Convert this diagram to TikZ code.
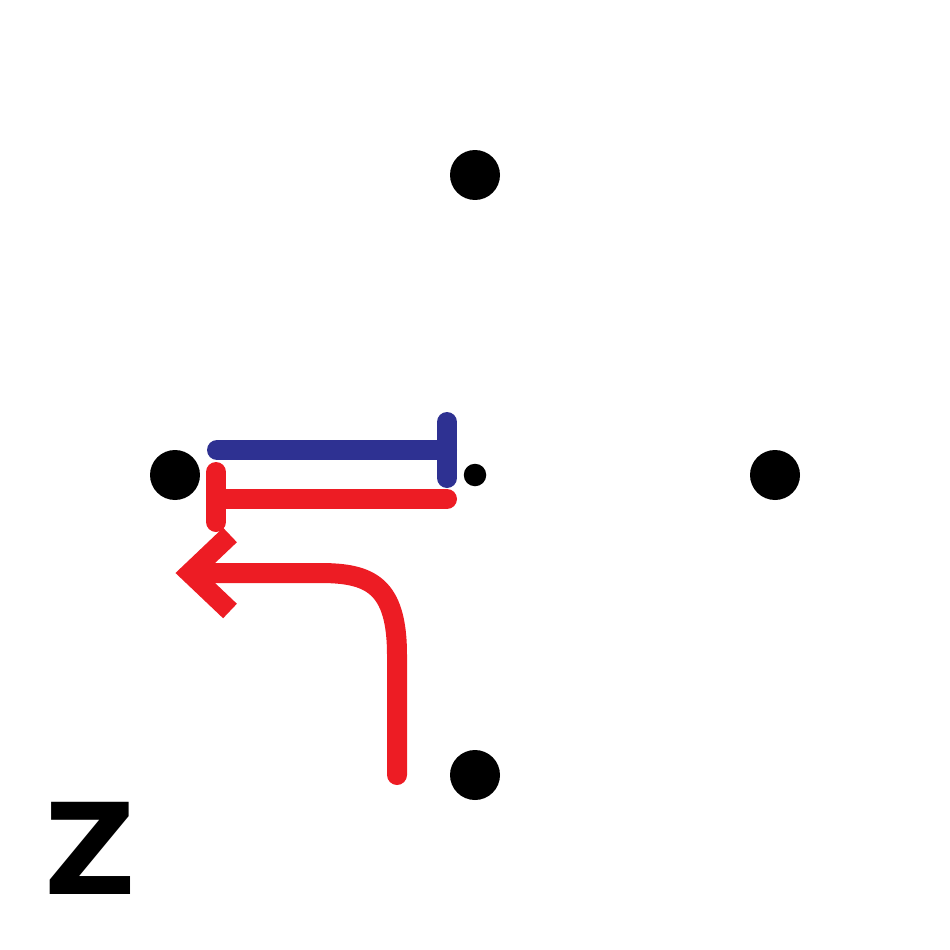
\documentclass[tikz,border=0pt]{standalone}
\usepackage{fontspec}
\newfontfamily\zfont{DejaVu Sans}
\definecolor{iblue}{HTML}{2E3192}
\definecolor{ired}{HTML}{ED1C24}
\begin{document}
\begin{tikzpicture}[x=0.02cm,y=-0.02cm,
  bigdot/.style={circle,fill=black,inner sep=0pt,minimum size=1cm},
  smalldot/.style={circle,fill=black,inner sep=0pt,minimum size=0.45cm},
  inhib/.style={line width=4mm,line cap=round},
  chev/.style={line width=4mm,line join=miter}]
\useasboundingbox (0,0) rectangle (950,950);
\node[bigdot] (top) at (475,175) {};
\node[bigdot] (left) at (175,475) {};
\node[bigdot] (right) at (775,475) {};
\node[bigdot] (bottom) at (475,775) {};
\node[smalldot] (center) at (475,475) {};
% blue inhibition
\coordinate (b1) at (217,450);
\coordinate (b2) at (447,450);
\coordinate (bt) at (447,422);
\coordinate (bb) at (447,478);
\draw[iblue,inhib] (b1) -- (b2);
\draw[iblue,inhib] (bt) -- (bb);
% red inhibition
\coordinate (r1) at (447,499);
\coordinate (r2) at (216,499);
\coordinate (rt) at (216,472);
\coordinate (rb) at (216,522);
\draw[ired,inhib] (r1) -- (r2);
\draw[ired,inhib] (rt) -- (rb);
% red curved arrow
\coordinate (a0) at (397,775);
\coordinate (a1) at (397,655);
\coordinate (a2) at (320,573);
\coordinate (tip) at (195,573);
\draw[ired,line width=4mm,line cap=round] (a0) -- (a1) .. controls (397,585) and (370,573) .. (a2) -- (tip);
\draw[ired,chev] (230,535) -- (190,573) -- (230,611);
\node[font=\zfont\bfseries\fontsize{72}{72}\selectfont,inner sep=0pt] (z) at (90,848) {Z};
\end{tikzpicture}
\end{document}
